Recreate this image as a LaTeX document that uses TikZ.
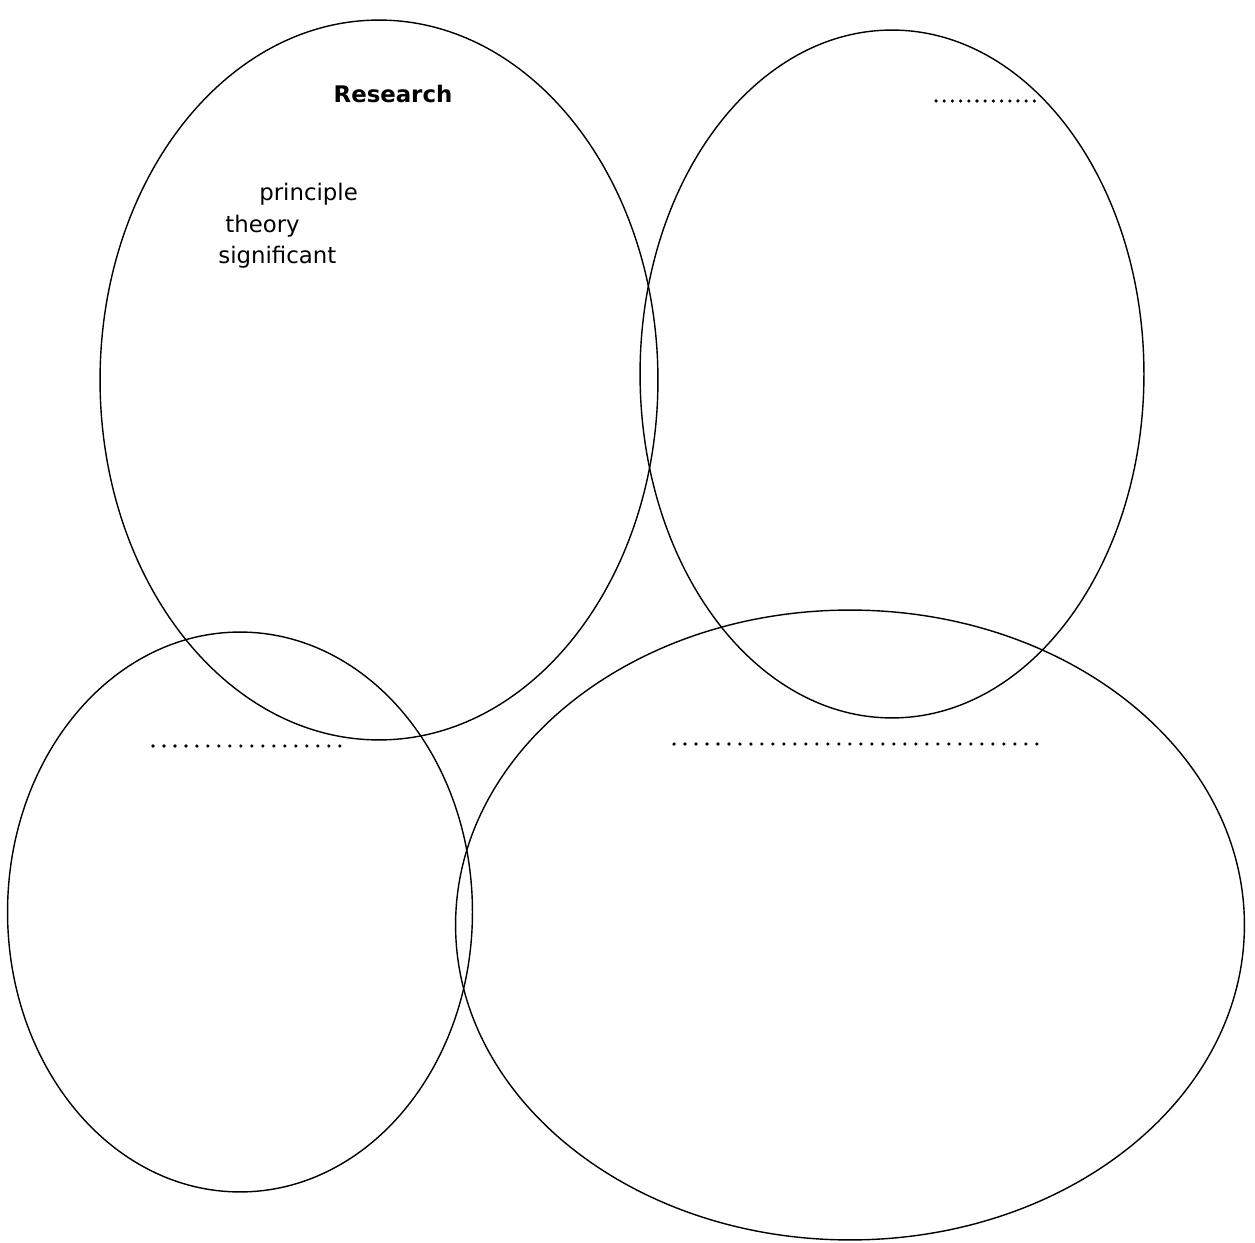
\documentclass[tikz,border=0pt]{standalone}
\usepackage{fontspec}
\setmainfont{DejaVu Sans}
\usetikzlibrary{shapes.geometric}
\tikzset{
  oval/.style={draw, ellipse, inner sep=0pt, line width=0.8pt},
  word/.style={anchor=base west, inner sep=0pt, font=\fontsize{13}{15}\selectfont},
  title/.style={anchor=base, inner sep=0pt, font=\fontsize{13}{15}\selectfont\bfseries},
  blank/.style={line width=2pt, line cap=round, dash pattern=on 0pt off 0.22cm}
}

\begin{document}
\begin{tikzpicture}[x=0.02cm, y=-0.02cm]
\useasboundingbox (0,0) rectangle (1255,1243);
% the four ovals
\node[oval, minimum width=11.16cm, minimum height=14.4cm] (research) at (379,380) {};
\node[oval, minimum width=10.08cm, minimum height=13.76cm] (topright) at (892,374) {};
\node[oval, minimum width=9.3cm, minimum height=11.2cm] (botleft) at (240,912) {};
\node[oval, minimum width=15.78cm, minimum height=12.6cm] (botright) at (850,925) {};
% texts
\node[title] (head) at (393,103) {Research};
\node[word] (w1) at (259,201) {principle};
\node[word] (w2) at (225,233) {theory};
\node[word] (w3) at (218,264) {significant};
% blanks to fill in
\draw[blank, dash pattern=on 0pt off 0.164cm] (936,101) -- (1035,101);
\draw[blank] (153,746) -- (340,746);
\draw[blank] (674,744) -- (1042,744);
\end{tikzpicture}
\end{document}
